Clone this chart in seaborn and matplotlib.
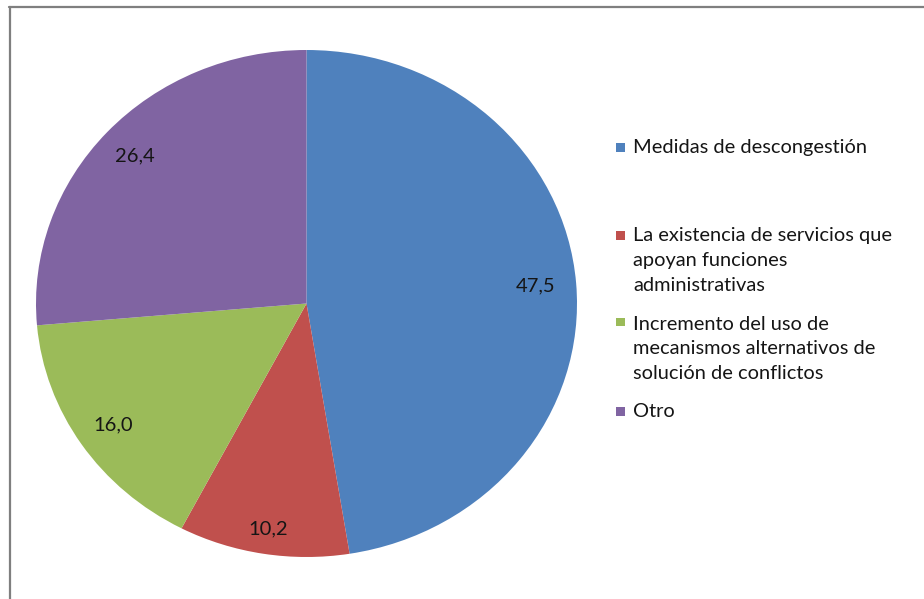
import numpy as np
import matplotlib
matplotlib.use("Agg")
import matplotlib.pyplot as plt
import seaborn as sns
from matplotlib.patches import Rectangle
from matplotlib.lines import Line2D

sns.set_theme(style="white")
plt.rcParams['font.family'] = ['Lato', 'DejaVu Sans']

categories = [
    "Medidas de descongestión",
    "La existencia de servicios que\napoyan funciones\nadministrativas",
    "Incremento del uso de\nmecanismos alternativos de\nsolución de conflictos",
    "Otro",
]
values = [47.5, 10.2, 16.0, 26.4]
value_labels = ["47,5", "10,2", "16,0", "26,4"]
colors = ["#4F81BD", "#C0504D", "#9BBB59", "#8064A2"]

W, H = 924, 599
fig = plt.figure(figsize=(W / 100, H / 100), dpi=100)
ax = fig.add_axes([0, 0, 1, 1])

cx, cy, rx, ry = 306.5, 303.5, 270.5, 253.5
wedges, _ = ax.pie(values, colors=colors, startangle=90, counterclock=False,
                   radius=1, center=(0, 0), wedgeprops=dict(linewidth=0))
ax.set_aspect('auto')
ax.set_xlim(-cx / rx, (W - cx) / rx)
ax.set_ylim(-(H - cy) / ry, cy / ry)
ax.axis('off')

dists = [0.85, 0.9, 0.86, 0.86]
for w, lab, d in zip(wedges, value_labels, dists):
    ang = np.deg2rad((w.theta1 + w.theta2) / 2)
    ax.text(d * np.cos(ang), d * np.sin(ang), lab, ha='center', va='center',
            fontsize=14.5, color='#151515')

# legend (manual placement to mimic Excel layout)
first_baselines = [153, 240.7, 327.3, 416.7]
last_baselines = [153, 290.7, 379.0, 416.7]
for lab, col, b0, b1 in zip(categories, colors, first_baselines, last_baselines):
    fig.patches.append(Rectangle((616 / W, 1 - (b0 - 1) / H), 8.5 / W, 8.5 / H,
                                 transform=fig.transFigure, facecolor=col,
                                 edgecolor='none'))
    fig.text(633 / W, 1 - b1 / H, lab, ha='left', va='baseline', fontsize=14.4,
             color='#151515', linespacing=1.55)

# frame lines (top and left)
fig.add_artist(Line2D([9 / W, 1], [1 - 6.5 / H, 1 - 6.5 / H], transform=fig.transFigure,
                      color='#7f7f7f', linewidth=1.6))
fig.add_artist(Line2D([9.5 / W, 9.5 / W], [0, 1 - 6.5 / H], transform=fig.transFigure,
                      color='#7f7f7f', linewidth=1.6))

fig.savefig("out.png", dpi=100)
